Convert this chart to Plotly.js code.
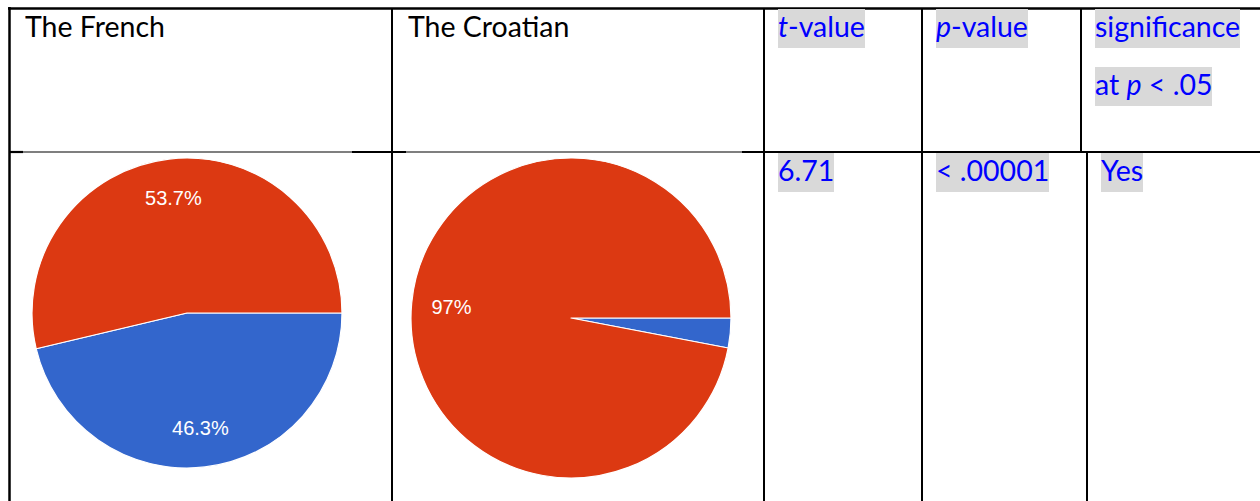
<!DOCTYPE html>
<html>
<head>
<meta charset="utf-8">
<script src="https://cdn.plot.ly/plotly-3.0.1.min.js"></script>
<style>
  html, body { margin: 0; padding: 0; background: #ffffff; }
  #chart { width: 1260px; height: 501px; }
</style>
</head>
<body>
<div id="chart"></div>
<script>
// ---- data (slices listed clockwise from 3 o'clock) ----
const groups = ['The French', 'The Croatian'];
const responseLabels = ['Response B', 'Response A'];
const frenchValues = [46.3, 53.7];
const croatianValues = [3, 97];
const headerLabels = ['<i>t</i>-value', '<i>p</i>-value', 'significance', 'at <i>p</i> &lt; .05'];
const statValues = ['6.71', '&lt; .00001', 'Yes'];
const sliceColors = ['#3366CC', '#DC3912'];

// ---- helpers (pixel -> paper) ----
const W = 1260, H = 501;
const px = x => x / W;
const py = y => 1 - y / H;

const frenchDomain = { x: [px(32), px(342)], y: [py(468), py(158)] };
const croatianDomain = { x: [px(411), px(731)], y: [py(478), py(158)] };

const pieCommon = {
  type: 'pie',
  sort: false,
  direction: 'clockwise',
  rotation: 90,
  hoverinfo: 'none',
  showlegend: false
};

function fillPie(name, values, domain) {
  return Object.assign({}, pieCommon, {
    name: name, labels: responseLabels, values: values, domain: domain,
    textinfo: 'none',
    marker: { colors: sliceColors, line: { color: '#ffffff', width: 1.2 } }
  });
}
// transparent ring on top that only carries the percentage labels
function labelPie(name, values, domain, templates) {
  return Object.assign({}, pieCommon, {
    name: name + ' labels', labels: responseLabels, values: values, domain: domain,
    hole: 0.5,
    textposition: 'inside',
    insidetextorientation: 'horizontal',
    texttemplate: templates,
    insidetextfont: { family: 'Liberation Sans, Arial, sans-serif', size: 20, color: '#ffffff' },
    marker: { colors: ['rgba(0,0,0,0)', 'rgba(0,0,0,0)'], line: { width: 0 } }
  });
}

const traces = [
  fillPie(groups[0], frenchValues, frenchDomain),
  fillPie(groups[1], croatianValues, croatianDomain),
  labelPie(groups[0], frenchValues, frenchDomain, ['%{percent}', '%{percent}']),
  labelPie(groups[1], croatianValues, croatianDomain, ['', '%{percent}'])
];

// ---- table lines ----
function vline(x, y0, y1, w) {
  return { type: 'line', xref: 'paper', yref: 'paper', x0: px(x), x1: px(x), y0: py(y0), y1: py(y1), line: { color: '#000', width: w || 2 } };
}
function hline(y, x0, x1, w) {
  return { type: 'line', xref: 'paper', yref: 'paper', x0: px(x0), x1: px(x1), y0: py(y), y1: py(y), line: { color: '#000', width: w || 2 } };
}
const shapes = [
  hline(8.6, 8, 1260, 2.5),
  hline(152, 9, 1260, 1.1),
  hline(152, 9, 23, 2.2),
  hline(152, 352, 406, 2.2),
  hline(152, 742, 1260, 2.2),
  vline(9.5, 7, 501, 2.5),
  vline(392, 8, 501),
  vline(764, 8, 501),
  vline(922, 8, 501),
  vline(1081, 8, 152),
  vline(1087, 152, 501)
];

// ---- text ----
const textFont = 'Lato, Calibri, Carlito, sans-serif';
const blackFont = { family: textFont, size: 28.5, color: '#000000' };
const blueFont = { family: textFont, size: 28.5, color: '#0000FF' };

function label(text, x, yTop, font, highlight) {
  const a = {
    text: text, xref: 'paper', yref: 'paper', x: px(x), y: py(yTop),
    xanchor: 'left', yanchor: 'top', showarrow: false, font: font,
    align: 'left', borderpad: 0, borderwidth: 0, height: 39, valign: 'top'
  };
  if (highlight) a.bgcolor = '#D9D9D9';
  return a;
}

const annotations = [
  label(groups[0], 25, 9, blackFont, false),
  label(groups[1], 408, 9, blackFont, false),
  label(headerLabels[0], 778, 9, blueFont, true),
  label(headerLabels[1], 936, 9, blueFont, true),
  label(headerLabels[2], 1095, 9, blueFont, true),
  label(headerLabels[3], 1095, 67, blueFont, true),
  label(statValues[0], 778, 153, blueFont, true),
  label(statValues[1], 936, 153, blueFont, true),
  label(statValues[2], 1101, 153, blueFont, true)
];

const layout = {
  width: W, height: H,
  margin: { l: 0, r: 0, t: 0, b: 0, pad: 0 },
  paper_bgcolor: '#ffffff',
  plot_bgcolor: '#ffffff',
  showlegend: false,
  shapes: shapes,
  annotations: annotations
};

Plotly.newPlot('chart', traces, layout, { displayModeBar: false, staticPlot: true });
</script>
</body>
</html>
